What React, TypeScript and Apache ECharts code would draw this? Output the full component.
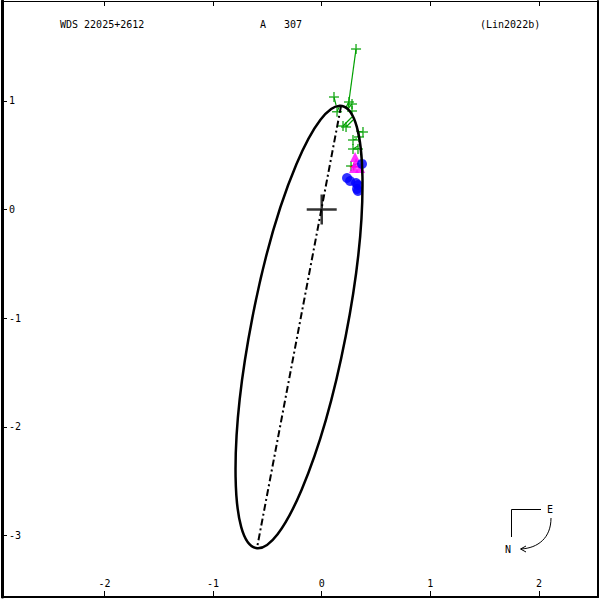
import React, { useEffect, useRef } from "react";
import * as echarts from "echarts";

// Axis ranges and tick labels
const xMin = -2.944;
const xMax = 2.544;
const yMin = -3.565;
const yMax = 1.918;
const xTicks = [-2, -1, 0, 1, 2];
const yTicks = [-3, -2, -1, 0, 1];

// Green micrometric observations (observed) and their computed positions on the orbit
const obsX = [0.316, 0.113, 0.141, 0.251, 0.279, 0.279, 0.196, 0.224, 0.380, 0.343, 0.288, 0.288, 0.334, 0.270];
const obsY = [1.477, 1.035, 0.898, 0.989, 0.971, 0.906, 0.768, 0.759, 0.713, 0.667, 0.640, 0.557, 0.557, 0.400];
const calcX = [0.242, 0.132, 0.169, 0.224, 0.242, 0.270, 0.279, 0.288, 0.316, 0.325, 0.325, 0.334, 0.334, 0.343];
const calcY = [0.934, 0.961, 0.961, 0.943, 0.925, 0.888, 0.851, 0.823, 0.722, 0.676, 0.649, 0.584, 0.566, 0.428];

// Blue (speckle) observations
const blueX = [0.233, 0.261, 0.316, 0.334, 0.325, 0.334, 0.371];
const blueY = [0.290, 0.262, 0.244, 0.225, 0.189, 0.170, 0.419];

// Magenta triangles
const magentaX = [0.307, 0.316, 0.353, 0.297];
const magentaY = [0.483, 0.428, 0.382, 0.382];

// Red marker
const redX = [0.295];
const redY = [0.395];

// Apparent orbit ellipse: centre x, centre y, semi-major, semi-minor, tilt (deg, top toward right)
const orbitEllipse = [-0.209, -1.081, 2.071, 0.438, 11];
// Line of apsides
const periastron = [0.178, 0.952];
const apastron = [-0.596, -3.114];
const primary = [0, 0];

const FONT = "DejaVu Sans Mono";
const GREEN = "#00a000";
const PLUS = "path://M4.25,0h1.5v10h-1.5zM0,4.25h10v1.5h-10z";
const BIGPLUS = "path://M13.75,0h2.5v30h-2.5zM0,13.75h30v2.5h-30z";

export default function App() {
  const ref = useRef<HTMLDivElement>(null);
  useEffect(() => {
    document.body.style.margin = "0";
    const chart = echarts.init(ref.current!, null, { renderer: "svg" });
    const labelStyle = { color: "#000", fontFamily: FONT, fontSize: 10 };
    const font = `10px "${FONT}"`;
    chart.setOption({
      animation: false,
      backgroundColor: "#fff",
      grid: { left: 2, right: 2, top: 1, bottom: 3, containLabel: false },
      xAxis: [
        {
          type: "value",
          position: "bottom",
          min: xMin,
          max: xMax,
          axisLine: { show: true, onZero: false, lineStyle: { color: "#000", width: 2 } },
          axisTick: { show: true, inside: true, length: 6, customValues: xTicks, lineStyle: { color: "#000", width: 1 } },
          axisLabel: { show: true, inside: true, margin: 9, customValues: xTicks, formatter: (v: number) => String(v), ...labelStyle },
          splitLine: { show: false },
        },
        {
          type: "value",
          position: "top",
          min: xMin,
          max: xMax,
          axisLine: { show: true, onZero: false, lineStyle: { color: "#000", width: 1 } },
          axisTick: { show: true, inside: true, length: 5, customValues: xTicks, lineStyle: { color: "#000", width: 1 } },
          axisLabel: { show: false },
          splitLine: { show: false },
        },
      ],
      yAxis: [
        {
          type: "value",
          position: "left",
          min: yMin,
          max: yMax,
          axisLine: { show: true, onZero: false, lineStyle: { color: "#000", width: 3 } },
          axisTick: { show: true, inside: true, length: 5, customValues: yTicks, lineStyle: { color: "#000", width: 1 } },
          axisLabel: { show: true, inside: true, margin: 7, customValues: yTicks, formatter: (v: number) => String(v), ...labelStyle },
          splitLine: { show: false },
        },
        {
          type: "value",
          position: "right",
          min: yMin,
          max: yMax,
          axisLine: { show: true, onZero: false, lineStyle: { color: "#000", width: 2 } },
          axisTick: { show: false },
          axisLabel: { show: false },
          splitLine: { show: false },
        },
      ],
      series: [
        {
          type: "lines",
          coordinateSystem: "cartesian2d",
          xAxisIndex: 0,
          yAxisIndex: 0,
          silent: true,
          z: 2,
          lineStyle: { color: GREEN, width: 1.2, opacity: 1 },
          data: obsX.map((x, i) => ({ coords: [[x, obsY[i]], [calcX[i], calcY[i]]] })),
        },
        {
          type: "scatter",
          z: 3,
          symbol: PLUS,
          symbolSize: 10,
          itemStyle: { color: GREEN },
          data: obsX.map((x, i) => [x, obsY[i]]),
        },
        {
          type: "scatter",
          z: 4,
          symbol: PLUS,
          symbolSize: 8,
          itemStyle: { color: "#ff0000" },
          data: redX.map((x, i) => [x, redY[i]]),
        },
        {
          type: "scatter",
          z: 5,
          symbol: "triangle",
          symbolSize: 10,
          itemStyle: { color: "#ff00ff" },
          data: magentaX.map((x, i) => [x, magentaY[i]]),
        },
        {
          type: "scatter",
          z: 6,
          symbol: "circle",
          symbolSize: 10,
          itemStyle: { color: "#0000ff" },
          data: blueX.map((x, i) => [x, blueY[i]]),
        },
        {
          type: "custom",
          z: 10,
          silent: true,
          encode: { x: 0, y: 1 },
          data: [orbitEllipse],
          renderItem: (params: any, api: any) => {
            const c = api.coord([api.value(0), api.value(1)]);
            const s = api.size([1, 1]);
            const a = api.value(2) as number;
            const b = api.value(3) as number;
            const tilt = api.value(4) as number;
            return {
              type: "ellipse",
              x: c[0],
              y: c[1],
              rotation: (-tilt * Math.PI) / 180,
              shape: { cx: 0, cy: 0, rx: b * s[0], ry: a * s[1] },
              style: { fill: "none", stroke: "#000", lineWidth: 2.5 },
            };
          },
        },
        {
          type: "line",
          z: 10,
          symbol: "none",
          silent: true,
          lineStyle: { color: "#000", width: 2, type: [7, 3, 2, 3] },
          data: [periastron, apastron],
        },
        {
          type: "scatter",
          z: 11,
          symbol: BIGPLUS,
          symbolSize: 30,
          itemStyle: { color: "#000" },
          data: [primary],
        },
      ],
      graphic: [
        { type: "text", x: 60, y: 24, style: { text: "WDS 22025+2612", font, fill: "#000", verticalAlign: "middle" } },
        { type: "text", x: 260, y: 24, style: { text: "A   307", font, fill: "#000", verticalAlign: "middle" } },
        { type: "text", x: 480, y: 24, style: { text: "(Lin2022b)", font, fill: "#000", verticalAlign: "middle" } },
        { type: "polyline", shape: { points: [[541, 509.5], [511.5, 509.5], [511.5, 537]] }, style: { stroke: "#000", lineWidth: 1, fill: "none" } },
        { type: "text", x: 550, y: 509, style: { text: "E", font, fill: "#000", align: "center", verticalAlign: "middle" } },
        { type: "text", x: 508, y: 549, style: { text: "N", font, fill: "#000", align: "center", verticalAlign: "middle" } },
        {
          type: "bezierCurve",
          shape: { x1: 551, y1: 518, cpx1: 551, cpy1: 538, cpx2: 538, cpy2: 548, x2: 521, y2: 549 },
          style: { stroke: "#000", lineWidth: 1, fill: "none" },
        },
        { type: "polyline", shape: { points: [[526, 546], [520.5, 549], [526, 552]] }, style: { stroke: "#000", lineWidth: 1, fill: "none" } },
      ],
    });
    return () => chart.dispose();
  }, []);
  return <div ref={ref} style={{ width: 600, height: 600 }} />;
}
